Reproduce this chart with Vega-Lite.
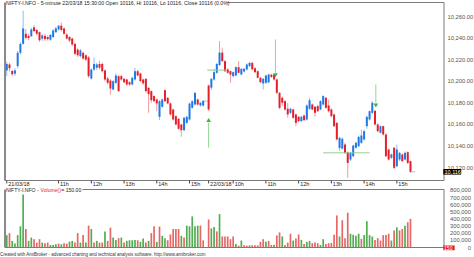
{
"$schema":"https://vega.github.io/schema/vega-lite/v6.json",
"background":"white",
"padding":{"left":0,"top":0.5,"right":0,"bottom":0},
"config":{"view":{"stroke":null},"font":"Liberation Sans"},
"title":{"text":"Created with AmiBroker - advanced charting and technical analysis software. http://www.amibroker.com","orient":"bottom","anchor":"start","fontSize":4.5,"fontWeight":"normal","color":"#333","offset":1},
"spacing":9,
"bounds":"flush",
"datasets":{
"candles":[
{"k":0,"o":10210,"h":10218,"l":10204.7,"c":10216,"v":174000,"vd":"up"},
{"k":1,"o":10215.5,"h":10217,"l":10209,"c":10212,"v":202000,"vd":"down"},
{"k":2,"o":10209.5,"h":10210.5,"l":10204.5,"c":10206.5,"v":93000,"vd":"up"},
{"k":3,"o":10207,"h":10212,"l":10205,"c":10210,"v":55000,"vd":"up"},
{"k":4,"o":10214,"h":10228,"l":10212,"c":10226.3,"v":174000,"vd":"up"},
{"k":5,"o":10226.3,"h":10236,"l":10225,"c":10234.6,"v":298000,"vd":"up"},
{"k":6,"o":10234.6,"h":10265.5,"l":10234,"c":10248.9,"v":745000,"vd":"up"},
{"k":7,"o":10244,"h":10248.5,"l":10238.5,"c":10240.2,"v":260000,"vd":"down"},
{"k":8,"o":10242,"h":10244,"l":10238,"c":10240,"v":93000,"vd":"up"},
{"k":9,"o":10241.7,"h":10249.5,"l":10241,"c":10247.9,"v":140000,"vd":"up"},
{"k":10,"o":10250,"h":10252,"l":10245.5,"c":10246.5,"v":117000,"vd":"down"},
{"k":11,"o":10247.5,"h":10248.5,"l":10242.5,"c":10244,"v":69000,"vd":"down"},
{"k":12,"o":10245.5,"h":10246,"l":10236.5,"c":10238,"v":117000,"vd":"down"},
{"k":13,"o":10239.5,"h":10244,"l":10237.5,"c":10242.5,"v":69000,"vd":"up"},
{"k":14,"o":10242,"h":10244,"l":10237.5,"c":10239,"v":60000,"vd":"down"},
{"k":15,"o":10241,"h":10242.5,"l":10237.5,"c":10239,"v":69000,"vd":"down"},
{"k":16,"o":10238.5,"h":10244,"l":10237.5,"c":10243,"v":36000,"vd":"up"},
{"k":17,"o":10241,"h":10248.5,"l":10240,"c":10247,"v":36000,"vd":"up"},
{"k":18,"o":10245.5,"h":10250.5,"l":10244.5,"c":10249,"v":45000,"vd":"up"},
{"k":19,"o":10248,"h":10252,"l":10247,"c":10251.5,"v":55000,"vd":"down"},
{"k":20,"o":10251.5,"h":10254.5,"l":10246,"c":10247.5,"v":45000,"vd":"up"},
{"k":21,"o":10248.9,"h":10250,"l":10243,"c":10244,"v":60000,"vd":"down"},
{"k":22,"o":10243.3,"h":10244.5,"l":10238.5,"c":10239.6,"v":55000,"vd":"down"},
{"k":23,"o":10241,"h":10242,"l":10236,"c":10237.7,"v":83000,"vd":"up"},
{"k":24,"o":10239.6,"h":10240.5,"l":10232.5,"c":10234,"v":93000,"vd":"up"},
{"k":25,"o":10234.6,"h":10236,"l":10224,"c":10225.4,"v":69000,"vd":"down"},
{"k":26,"o":10229.4,"h":10230.5,"l":10222.5,"c":10224.1,"v":202000,"vd":"down"},
{"k":27,"o":10223.2,"h":10230,"l":10222,"c":10228.5,"v":69000,"vd":"up"},
{"k":28,"o":10226.3,"h":10227.5,"l":10220,"c":10221,"v":174000,"vd":"down"},
{"k":29,"o":10224,"h":10225,"l":10218.5,"c":10220,"v":69000,"vd":"up"},
{"k":30,"o":10222,"h":10223.5,"l":10203,"c":10204.7,"v":307000,"vd":"down"},
{"k":31,"o":10202.5,"h":10212,"l":10201.5,"c":10210.8,"v":260000,"vd":"up"},
{"k":32,"o":10210.8,"h":10222,"l":10209.5,"c":10216,"v":69000,"vd":"down"},
{"k":33,"o":10212.5,"h":10217,"l":10210.5,"c":10215.5,"v":93000,"vd":"up"},
{"k":34,"o":10216,"h":10219,"l":10211,"c":10212.5,"v":69000,"vd":"down"},
{"k":35,"o":10216,"h":10217.5,"l":10208,"c":10209.3,"v":69000,"vd":"down"},
{"k":36,"o":10210,"h":10211,"l":10200,"c":10201.6,"v":226000,"vd":"up"},
{"k":37,"o":10202.5,"h":10204,"l":10197,"c":10198.5,"v":93000,"vd":"down"},
{"k":38,"o":10200.6,"h":10202,"l":10187.5,"c":10193.2,"v":279000,"vd":"down"},
{"k":39,"o":10192.3,"h":10201,"l":10191.5,"c":10200.1,"v":140000,"vd":"up"},
{"k":40,"o":10198.5,"h":10207.2,"l":10197.5,"c":10205.3,"v":107000,"vd":"up"},
{"k":41,"o":10204.7,"h":10205.5,"l":10190,"c":10190.8,"v":131000,"vd":"down"},
{"k":42,"o":10204.7,"h":10206,"l":10200.5,"c":10201.6,"v":140000,"vd":"up"},
{"k":43,"o":10202.2,"h":10203,"l":10198,"c":10199.1,"v":69000,"vd":"down"},
{"k":44,"o":10201.6,"h":10202.5,"l":10195.5,"c":10197,"v":93000,"vd":"up"},
{"k":45,"o":10199.1,"h":10200,"l":10195.5,"c":10197,"v":102000,"vd":"up"},
{"k":46,"o":10197,"h":10204,"l":10196,"c":10203.2,"v":102000,"vd":"up"},
{"k":47,"o":10201.6,"h":10212.4,"l":10200.5,"c":10209.3,"v":107000,"vd":"up"},
{"k":48,"o":10209.3,"h":10210.5,"l":10204.5,"c":10205.3,"v":102000,"vd":"down"},
{"k":49,"o":10207.2,"h":10208,"l":10199,"c":10200.1,"v":79000,"vd":"up"},
{"k":50,"o":10201.6,"h":10202.5,"l":10196.5,"c":10198,"v":126000,"vd":"up"},
{"k":51,"o":10202.2,"h":10203,"l":10189.5,"c":10190.8,"v":69000,"vd":"down"},
{"k":52,"o":10193.9,"h":10194.5,"l":10170.7,"c":10188,"v":93000,"vd":"up"},
{"k":53,"o":10190.8,"h":10191.5,"l":10180,"c":10182.4,"v":202000,"vd":"down"},
{"k":54,"o":10186.2,"h":10187,"l":10180.5,"c":10181.5,"v":298000,"vd":"down"},
{"k":55,"o":10183.1,"h":10184,"l":10172.2,"c":10179.4,"v":79000,"vd":"up"},
{"k":56,"o":10167,"h":10182.5,"l":10163.9,"c":10181.5,"v":293000,"vd":"down"},
{"k":57,"o":10176.3,"h":10184,"l":10175.5,"c":10183.1,"v":164000,"vd":"up"},
{"k":58,"o":10191.7,"h":10192.3,"l":10180.5,"c":10181.5,"v":131000,"vd":"up"},
{"k":59,"o":10184.6,"h":10185.5,"l":10178.5,"c":10179.4,"v":102000,"vd":"down"},
{"k":60,"o":10179.4,"h":10180.3,"l":10168,"c":10169.2,"v":183000,"vd":"down"},
{"k":61,"o":10173.8,"h":10174.5,"l":10163.5,"c":10164.5,"v":260000,"vd":"down"},
{"k":62,"o":10167.6,"h":10168.5,"l":10159,"c":10159.9,"v":260000,"vd":"down"},
{"k":63,"o":10165.1,"h":10166,"l":10155,"c":10155.9,"v":260000,"vd":"down"},
{"k":64,"o":10159.9,"h":10160.5,"l":10148.5,"c":10154.6,"v":164000,"vd":"up"},
{"k":65,"o":10154.6,"h":10167,"l":10153.5,"c":10166.1,"v":140000,"vd":"down"},
{"k":66,"o":10161.4,"h":10168,"l":10160.5,"c":10167,"v":307000,"vd":"up"},
{"k":67,"o":10164.5,"h":10180.2,"l":10163.5,"c":10179.3,"v":298000,"vd":"up"},
{"k":68,"o":10175.3,"h":10182.5,"l":10174.5,"c":10181.5,"v":436000,"vd":"up"},
{"k":69,"o":10178.4,"h":10190,"l":10177.5,"c":10189.2,"v":298000,"vd":"up"},
{"k":70,"o":10183.1,"h":10184,"l":10177.5,"c":10178.4,"v":307000,"vd":"up"},
{"k":71,"o":10177.5,"h":10181,"l":10176.5,"c":10180,"v":307000,"vd":"down"},
{"k":72,"o":10177.5,"h":10182.5,"l":10176.5,"c":10181.8,"v":100000,"vd":"down"},
{"k":73,"o":10181.5,"h":10181.5,"l":10181.5,"c":10181.5,"v":5000,"vd":"down"},
{"k":74,"o":10196,"h":10197,"l":10172.5,"c":10173.8,"v":393000,"vd":"down"},
{"k":75,"o":10194,"h":10203,"l":10192,"c":10202.2,"v":269000,"vd":"up"},
{"k":76,"o":10201.6,"h":10211.5,"l":10200.5,"c":10208.4,"v":288000,"vd":"up"},
{"k":77,"o":10207.8,"h":10217,"l":10207,"c":10216,"v":226000,"vd":"down"},
{"k":78,"o":10215,"h":10237.1,"l":10214,"c":10226.5,"v":469000,"vd":"up"},
{"k":79,"o":10226.5,"h":10231,"l":10218,"c":10218.6,"v":155000,"vd":"down"},
{"k":80,"o":10218.6,"h":10219.5,"l":10208.5,"c":10209.3,"v":155000,"vd":"down"},
{"k":81,"o":10210.9,"h":10212,"l":10207,"c":10207.8,"v":155000,"vd":"down"},
{"k":82,"o":10209.3,"h":10210,"l":10198.5,"c":10206.2,"v":117000,"vd":"down"},
{"k":83,"o":10204.7,"h":10209,"l":10203.5,"c":10208.4,"v":155000,"vd":"down"},
{"k":84,"o":10205.3,"h":10214,"l":10204.5,"c":10213,"v":50000,"vd":"up"},
{"k":85,"o":10213,"h":10218.6,"l":10207,"c":10207.8,"v":26000,"vd":"down"},
{"k":86,"o":10206.2,"h":10212,"l":10205.5,"c":10211.5,"v":98000,"vd":"up"},
{"k":87,"o":10209,"h":10212.5,"l":10208,"c":10211.5,"v":31000,"vd":"down"},
{"k":88,"o":10210.9,"h":10216.5,"l":10210,"c":10215.5,"v":26000,"vd":"down"},
{"k":89,"o":10214,"h":10218,"l":10213,"c":10217,"v":31000,"vd":"up"},
{"k":90,"o":10217,"h":10218,"l":10210,"c":10211,"v":31000,"vd":"down"},
{"k":91,"o":10212,"h":10213,"l":10207.5,"c":10208.4,"v":31000,"vd":"down"},
{"k":92,"o":10209.3,"h":10210,"l":10202.5,"c":10203.2,"v":31000,"vd":"down"},
{"k":93,"o":10203.2,"h":10204,"l":10198,"c":10199.1,"v":79000,"vd":"down"},
{"k":94,"o":10197.9,"h":10203,"l":10192.3,"c":10202.2,"v":117000,"vd":"down"},
{"k":95,"o":10198.5,"h":10206,"l":10197.5,"c":10205.3,"v":79000,"vd":"up"},
{"k":96,"o":10199,"h":10207,"l":10198,"c":10206.2,"v":93000,"vd":"down"},
{"k":97,"o":10206,"h":10207,"l":10203,"c":10204,"v":36000,"vd":"down"},
{"k":98,"o":10206.2,"h":10206.8,"l":10200.5,"c":10201.6,"v":40000,"vd":"up"},
{"k":99,"o":10201.6,"h":10202.5,"l":10188,"c":10189.2,"v":169000,"vd":"down"},
{"k":100,"o":10189.2,"h":10190,"l":10174,"c":10175.3,"v":212000,"vd":"down"},
{"k":101,"o":10184.6,"h":10186,"l":10177,"c":10180,"v":155000,"vd":"up"},
{"k":102,"o":10181.5,"h":10182.5,"l":10172.5,"c":10173.8,"v":36000,"vd":"down"},
{"k":103,"o":10174.5,"h":10180,"l":10166.1,"c":10169.2,"v":69000,"vd":"down"},
{"k":104,"o":10170.7,"h":10175.5,"l":10169.5,"c":10174.4,"v":193000,"vd":"down"},
{"k":105,"o":10173.8,"h":10174.5,"l":10165,"c":10166.1,"v":98000,"vd":"up"},
{"k":106,"o":10169.2,"h":10170,"l":10158.3,"c":10161.4,"v":126000,"vd":"down"},
{"k":107,"o":10167,"h":10168,"l":10162,"c":10163,"v":183000,"vd":"down"},
{"k":108,"o":10163,"h":10168,"l":10162,"c":10167,"v":107000,"vd":"up"},
{"k":109,"o":10168.2,"h":10169,"l":10163,"c":10163.9,"v":50000,"vd":"down"},
{"k":110,"o":10164.5,"h":10178.5,"l":10163.5,"c":10177.5,"v":79000,"vd":"up"},
{"k":111,"o":10174.4,"h":10184.6,"l":10173.5,"c":10182.4,"v":93000,"vd":"up"},
{"k":112,"o":10178.4,"h":10179.5,"l":10173,"c":10173.8,"v":60000,"vd":"down"},
{"k":113,"o":10176.3,"h":10177,"l":10167,"c":10170.7,"v":69000,"vd":"down"},
{"k":114,"o":10176.9,"h":10178,"l":10171.5,"c":10172.2,"v":60000,"vd":"down"},
{"k":115,"o":10173.8,"h":10182.5,"l":10173,"c":10181.5,"v":36000,"vd":"up"},
{"k":116,"o":10178.4,"h":10187,"l":10177.5,"c":10186.2,"v":117000,"vd":"up"},
{"k":117,"o":10184.6,"h":10185.5,"l":10174.5,"c":10175.3,"v":50000,"vd":"down"},
{"k":118,"o":10177.5,"h":10183,"l":10171,"c":10172.2,"v":60000,"vd":"down"},
{"k":119,"o":10173.8,"h":10175,"l":10166.5,"c":10167.6,"v":64000,"vd":"down"},
{"k":120,"o":10169.1,"h":10170,"l":10157.5,"c":10158.3,"v":179000,"vd":"down"},
{"k":121,"o":10161.4,"h":10162,"l":10145,"c":10146,"v":450000,"vd":"down"},
{"k":122,"o":10138,"h":10148.5,"l":10135.5,"c":10147.5,"v":155000,"vd":"up"},
{"k":123,"o":10137.5,"h":10148,"l":10136.5,"c":10146.6,"v":383000,"vd":"down"},
{"k":124,"o":10141.3,"h":10143,"l":10132.5,"c":10133.6,"v":131000,"vd":"down"},
{"k":125,"o":10134.2,"h":10135,"l":10110.4,"c":10124.3,"v":488000,"vd":"down"},
{"k":126,"o":10127.4,"h":10134.5,"l":10126,"c":10133.6,"v":193000,"vd":"up"},
{"k":127,"o":10130.5,"h":10141,"l":10129.5,"c":10140.4,"v":179000,"vd":"up"},
{"k":128,"o":10138.3,"h":10144,"l":10137.5,"c":10142.9,"v":164000,"vd":"up"},
{"k":129,"o":10139.8,"h":10149.5,"l":10139,"c":10148.4,"v":193000,"vd":"up"},
{"k":130,"o":10142.9,"h":10155.2,"l":10142,"c":10149.7,"v":121000,"vd":"down"},
{"k":131,"o":10146,"h":10155,"l":10145,"c":10153.7,"v":174000,"vd":"up"},
{"k":132,"o":10158.3,"h":10168,"l":10155.9,"c":10167,"v":369000,"vd":"up"},
{"k":133,"o":10164.5,"h":10173,"l":10163.5,"c":10172.2,"v":174000,"vd":"up"},
{"k":134,"o":10170.7,"h":10181.5,"l":10169.5,"c":10180,"v":155000,"vd":"up"},
{"k":135,"o":10172.5,"h":10173.5,"l":10159,"c":10159.9,"v":107000,"vd":"down"},
{"k":136,"o":10159.9,"h":10161,"l":10152.5,"c":10153.7,"v":131000,"vd":"down"},
{"k":137,"o":10152.2,"h":10159,"l":10151.5,"c":10158.3,"v":98000,"vd":"down"},
{"k":138,"o":10158.3,"h":10159,"l":10149.5,"c":10150.6,"v":174000,"vd":"down"},
{"k":139,"o":10150.6,"h":10151.5,"l":10129.5,"c":10130.5,"v":174000,"vd":"down"},
{"k":140,"o":10136.7,"h":10137.5,"l":10126.5,"c":10127.4,"v":193000,"vd":"down"},
{"k":141,"o":10129,"h":10133,"l":10128,"c":10132.1,"v":98000,"vd":"up"},
{"k":142,"o":10138.3,"h":10139,"l":10118.5,"c":10119.7,"v":240000,"vd":"down"},
{"k":143,"o":10121.2,"h":10141.3,"l":10120,"c":10136.7,"v":283000,"vd":"up"},
{"k":144,"o":10127.4,"h":10134.5,"l":10126,"c":10133.6,"v":240000,"vd":"down"},
{"k":145,"o":10132.1,"h":10133,"l":10125,"c":10125.9,"v":260000,"vd":"down"},
{"k":146,"o":10127.4,"h":10135,"l":10126.5,"c":10133.6,"v":307000,"vd":"up"},
{"k":147,"o":10134.2,"h":10135,"l":10123,"c":10124.3,"v":355000,"vd":"down"},
{"k":148,"o":10125.9,"h":10126.5,"l":10115,"c":10116,"v":402000,"vd":"down"},
{"k":149,"o":10116,"h":10116,"l":10116,"c":10116,"v":150,"vd":"down"}
],
"signals":[
{"k":74,"dir":"buy","tail":10138.5,"base":10161.5,"head":10164},
{"k":98.5,"dir":"sell","tail":10238.7,"base":10208,"head":10205.5},
{"k":135.3,"dir":"sell","tail":10197,"base":10180,"head":10177.5}
],
"levels":[
{"k1":73.5,"k2":80.5,"p":10210.3},
{"k1":116,"k2":133,"p":10133.6}
],
"xticks":[
{"k":0,"lab":"21/03/18"},{"k":19,"lab":"11h"},{"k":31,"lab":"12h"},{"k":43,"lab":"13h"},{"k":55,"lab":"14h"},{"k":67,"lab":"15h"},
{"k":74,"lab":"22/03/18"},{"k":83,"lab":"10h"},{"k":95,"lab":"11h"},{"k":107,"lab":"12h"},{"k":119,"lab":"13h"},{"k":131,"lab":"14h"},{"k":143,"lab":"15h"}
],
"yticks":[{"p":10120},{"p":10140},{"p":10160},{"p":10180},{"p":10200},{"p":10220},{"p":10240},{"p":10260}],
"vticks":[{"v":0},{"v":100000},{"v":200000},{"v":300000},{"v":400000},{"v":500000},{"v":600000},{"v":700000},{"v":800000}]
},
"vconcat":[
{
"width":449,"height":178,
"data":{"name":"candles"},
"layer":[
{"mark":{"type":"rule","strokeWidth":1},
"encoding":{
"x":{"field":"k","type":"quantitative","scale":{"domain":[-0.645,160.29],"nice":false,"zero":false},"axis":null},
"y":{"field":"l","type":"quantitative","scale":{"domain":[10107.95,10272.98],"nice":false,"zero":false},"axis":null},
"y2":{"field":"h"},
"color":{"condition":{"test":"datum.c >= datum.o","value":"#8fc0f0"},"value":"#f29aa2"}
}},
{"transform":[{"filter":"datum.o != datum.c"}],
"mark":{"type":"bar","size":2},
"encoding":{
"x":{"field":"k","type":"quantitative"},
"y":{"field":"o","type":"quantitative"},
"y2":{"field":"c"},
"color":{"condition":{"test":"datum.c >= datum.o","value":"#1f78e6"},"value":"#e3202a"}
}},
{"transform":[{"filter":"datum.o == datum.c"}],
"mark":{"type":"tick","orient":"horizontal","size":3.5,"thickness":1,"color":"#9a9a9a"},
"encoding":{"x":{"field":"k","type":"quantitative"},"y":{"field":"c","type":"quantitative"}}},
{"data":{"name":"levels"},
"mark":{"type":"rule","color":"#8fd08f","strokeWidth":1},
"encoding":{"x":{"field":"k1","type":"quantitative"},"x2":{"field":"k2"},"y":{"field":"p","type":"quantitative"}}},
{"data":{"name":"signals"},
"mark":{"type":"rule","color":"#8fd88f","strokeWidth":1},
"encoding":{"x":{"field":"k","type":"quantitative"},"y":{"field":"tail","type":"quantitative"},"y2":{"field":"base"}}},
{"data":{"name":"signals"},
"mark":{"type":"point","filled":true,"size":22,"color":"#3db53d","opacity":1},
"encoding":{"x":{"field":"k","type":"quantitative"},"y":{"field":"head","type":"quantitative"},
"shape":{"field":"dir","type":"nominal","scale":{"domain":["buy","sell"],"range":["triangle-up","triangle-down"]},"legend":null}}},
{"data":{"values":[{}]},"mark":{"type":"rule","color":"#8a8a8a","strokeWidth":2},
"encoding":{"x":{"datum":-0.645},"y":{"datum":10107.95},"y2":{"datum":10272.98}}},
{"data":{"values":[{}]},"mark":{"type":"rule","color":"#7a7a7a","strokeWidth":1},
"encoding":{"x":{"datum":160.29},"y":{"datum":10107.95},"y2":{"datum":10272.98}}},
{"data":{"values":[{}]},"mark":{"type":"rule","color":"#7a7a7a","strokeWidth":1},
"encoding":{"y":{"datum":10107.95},"x":{"datum":-0.645},"x2":{"datum":160.29}}},
{"data":{"values":[{}]},"mark":{"type":"rule","color":"#7a7a7a","strokeWidth":1},
"encoding":{"y":{"datum":10272.98},"x":{"datum":80.8},"x2":{"datum":160.29}}},
{"data":{"values":[{}]},"mark":{"type":"text","align":"left","baseline":"middle","fontSize":5.2,"color":"#222","dx":1},
"encoding":{"x":{"datum":-0.645},"y":{"datum":10272.98},"text":{"value":"NIFTY-I.NFO - 5-minute 22/03/18 15:30:00 Open 10116, Hi 10116, Lo 10116, Close 10116 (0.0%)"}}},
{"data":{"name":"xticks"},"mark":{"type":"rule","color":"#444","strokeWidth":1},
"encoding":{"x":{"field":"k","type":"quantitative"},"y":{"datum":10107.95},"y2":{"datum":10105.2}}},
{"data":{"name":"xticks"},"mark":{"type":"text","align":"left","baseline":"top","fontSize":5.5,"color":"#222","dx":1.5,"dy":1.5},
"encoding":{"x":{"field":"k","type":"quantitative"},"y":{"datum":10107.95},"text":{"field":"lab"}}},
{"data":{"name":"yticks"},"mark":{"type":"text","align":"left","baseline":"middle","fontSize":5.8,"color":"#555","dx":3.5},
"encoding":{"x":{"datum":160.29},"y":{"field":"p","type":"quantitative"},"text":{"field":"p","type":"quantitative","format":",.2f"}}},
{"data":{"values":[{}]},"mark":{"type":"rect","color":"#000000"},
"encoding":{"x":{"datum":160.03},"x2":{"datum":166.6},"y":{"datum":10113.4},"y2":{"datum":10118.6}}},
{"data":{"values":[{}]},"mark":{"type":"text","align":"left","baseline":"middle","fontSize":5.5,"color":"#ffffff","dx":1.2},
"encoding":{"x":{"datum":160.03},"y":{"datum":10116},"text":{"value":"10,116"}}}
]
},
{
"width":449,"height":58,
"data":{"name":"candles"},
"layer":[
{"mark":{"type":"bar","size":1.7},
"encoding":{
"x":{"field":"k","type":"quantitative","scale":{"domain":[-0.645,160.29],"nice":false,"zero":false},"axis":null},
"y":{"field":"v","type":"quantitative","scale":{"domain":[0,814000],"nice":false},"axis":null},
"color":{"condition":{"test":"datum.vd == 'up'","value":"#52ad52"},"value":"#e66767"}
}},
{"data":{"values":[{}]},"mark":{"type":"rule","color":"#8a8a8a","strokeWidth":2},
"encoding":{"x":{"datum":-0.645},"y":{"datum":0},"y2":{"datum":814000}}},
{"data":{"values":[{}]},"mark":{"type":"rule","color":"#7a7a7a","strokeWidth":1},
"encoding":{"x":{"datum":160.29},"y":{"datum":0},"y2":{"datum":814000}}},
{"data":{"values":[{}]},"mark":{"type":"rule","color":"#7a7a7a","strokeWidth":1},
"encoding":{"y":{"datum":0},"x":{"datum":-0.645},"x2":{"datum":160.29}}},
{"data":{"values":[{}]},"mark":{"type":"rule","color":"#7a7a7a","strokeWidth":1},
"encoding":{"y":{"datum":814000},"x":{"datum":27.8},"x2":{"datum":160.29}}},
{"data":{"values":[{}]},"mark":{"type":"text","align":"left","baseline":"middle","fontSize":5.1,"color":"#222","dx":1},
"encoding":{"x":{"datum":-0.645},"y":{"datum":814000},"text":{"value":"NIFTY-I.NFO - "}}},
{"data":{"values":[{}]},"mark":{"type":"text","align":"left","baseline":"middle","fontSize":5.1,"color":"#e82020","dx":35.6},
"encoding":{"x":{"datum":-0.645},"y":{"datum":814000},"text":{"value":"Volume()"}}},
{"data":{"values":[{}]},"mark":{"type":"text","align":"left","baseline":"middle","fontSize":5.1,"color":"#222","dx":56.3},
"encoding":{"x":{"datum":-0.645},"y":{"datum":814000},"text":{"value":" = 150.00"}}},
{"data":{"name":"vticks"},"mark":{"type":"text","align":"right","baseline":"middle","fontSize":5.8,"color":"#555","dx":27},
"encoding":{"x":{"datum":160.29},"y":{"field":"v","type":"quantitative"},"text":{"field":"v","type":"quantitative","format":",d"}}},
{"data":{"values":[{}]},"mark":{"type":"rect","color":"#e02020"},
"encoding":{"x":{"datum":160.03},"x2":{"datum":164.2},"y":{"datum":-38000},"y2":{"datum":28000}}},
{"data":{"values":[{}]},"mark":{"type":"text","align":"left","baseline":"middle","fontSize":5,"color":"#ffffff","dx":0.8},
"encoding":{"x":{"datum":160.03},"y":{"datum":-5000},"text":{"value":"150"}}}
]
}
]
}
